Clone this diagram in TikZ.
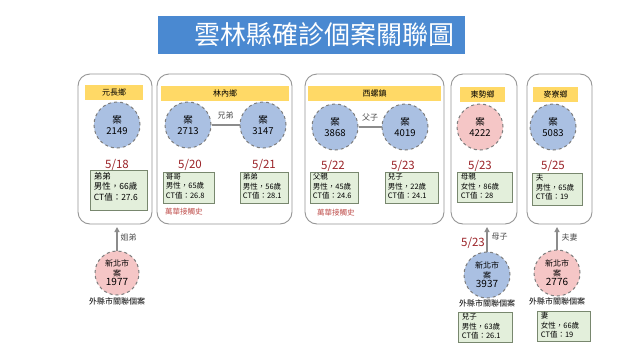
\documentclass[tikz,border=0pt]{standalone}
\usepackage{fontspec}
\setmainfont{Noto Sans CJK TC}
\usetikzlibrary{arrows.meta}
\definecolor{titleblue}{RGB}{74,137,209}
\definecolor{panelgray}{RGB}{150,150,150}
\definecolor{hdryellow}{RGB}{255,217,102}
\definecolor{cblue}{RGB}{170,192,226}
\definecolor{cpink}{RGB}{245,198,198}
\definecolor{cborder}{RGB}{125,125,125}
\definecolor{datered}{RGB}{155,35,40}
\definecolor{infofill}{RGB}{227,239,219}
\definecolor{infodraw}{RGB}{120,135,110}
\definecolor{noteRed}{RGB}{192,80,77}
\definecolor{linkgray}{RGB}{140,140,140}
\begin{document}
\begin{tikzpicture}[x=1pt,y=-1pt,
  panel/.style={draw=panelgray,line width=0.9pt,rounded corners=12pt,fill=white,inner sep=0pt},
  hdr/.style={fill=hdryellow,inner sep=0pt,minimum height=15pt,font=\fontsize{8}{9}\selectfont},
  casecircle/.style={circle,draw=cborder,dashed,line width=1pt,minimum size=46pt,inner sep=0pt,align=center,font=\fontsize{9.5}{11}\selectfont},
  bluecase/.style={casecircle,fill=cblue},
  pinkcase/.style={casecircle,fill=cpink},
  datelbl/.style={text=datered,font=\fontsize{11.5}{12}\selectfont,inner sep=0pt},
  infobox/.style={draw=infodraw,fill=infofill,line width=0.6pt,inner sep=0pt},
  infotext/.style={anchor=north west,align=left,inner sep=0pt,font=\fontsize{8.5}{10.5}\selectfont},
  link/.style={draw=linkgray,line width=1.6pt},
  uparrow/.style={draw=linkgray,line width=1.4pt,-{Triangle[length=5pt,width=5pt]}},
  rel/.style={text=black!70,font=\fontsize{8}{9}\selectfont,inner sep=1pt},
  note/.style={text=noteRed,font=\fontsize{7.5}{9}\selectfont,anchor=west,inner sep=0pt},
  outer/.style={font=\fontsize{8}{9}\selectfont,inner sep=0pt}]
\useasboundingbox[fill=white] (0,0) rectangle (644,362);
% title
\node[fill=titleblue,minimum width=307pt,minimum height=38pt,inner sep=0pt] (title) at (311.5,35) {};
\node[text=white,font=\fontsize{26}{28}\selectfont,inner sep=0pt] (titletext) at (324,35) {雲林縣確診個案關聯圖};
% panels
\node[panel,minimum width=74pt,minimum height=150pt] (p1) at (115,149) {};
\node[panel,minimum width=135pt,minimum height=150pt] (p2) at (224.5,149) {};
\node[panel,minimum width=139pt,minimum height=150pt] (p3) at (374.5,149) {};
\node[panel,minimum width=66pt,minimum height=150pt] (p4) at (484,149) {};
\node[panel,minimum width=65pt,minimum height=150pt] (p5) at (559.5,149) {};
% headers
\node[hdr,minimum width=58pt] (h1) at (114,92.5) {元長鄉};
\node[hdr,minimum width=128pt] (h2) at (225,93) {林內鄉};
\node[hdr,minimum width=133pt] (h3) at (374.5,93) {西螺鎮};
\node[hdr,minimum width=45pt] (h4) at (482.5,94) {東勢鄉};
\node[hdr,minimum width=45pt] (h5) at (555.5,94) {麥寮鄉};
% circles
\node[bluecase] (c2149) at (117,125) {案\\2149};
\node[bluecase] (c2713) at (188,125) {案\\2713};
\node[bluecase] (c3147) at (263,125) {案\\3147};
\node[bluecase] (c3868) at (335,127) {案\\3868};
\node[bluecase] (c4019) at (405,127) {案\\4019};
\node[pinkcase] (c4222) at (480,127) {案\\4222};
\node[bluecase] (c5083) at (553,127) {案\\5083};
% links
\draw[link] (c2713) -- node[rel,above=4pt] (r1) {兄弟} (c3147);
\draw[link] (c3868) -- node[rel,above=4pt] (r2) {父子} (c4019);
% dates
\node[datelbl] (d1) at (117,165) {5/18};
\node[datelbl] (d2) at (190,165) {5/20};
\node[datelbl] (d3) at (264,165) {5/21};
\node[datelbl] (d4) at (333,166) {5/22};
\node[datelbl] (d5) at (403,166) {5/23};
\node[datelbl] (d6) at (480,166) {5/23};
\node[datelbl] (d7) at (553,166) {5/25};
% info boxes
\node[infobox,minimum width=57pt,minimum height=40pt] (b1) at (118.5,190) {};
\node[infotext] (t1) at ([xshift=4pt,yshift=-2pt]b1.north west) {弟弟\\男性，66歲\\CT值：27.6};
\node[infobox,minimum width=51pt,minimum height=31pt] (b2) at (188.5,187.5) {};
\node[infotext,font=\fontsize{7.5}{9.5}\selectfont] (t2) at ([xshift=3pt,yshift=-1.5pt]b2.north west) {哥哥\\男性，65歲\\CT值：26.8};
\node[infobox,minimum width=48pt,minimum height=31pt] (b3) at (264,187.5) {};
\node[infotext,font=\fontsize{7.5}{9.5}\selectfont] (t3) at ([xshift=3pt,yshift=-1.5pt]b3.north west) {弟弟\\男性，56歲\\CT值：28.1};
\node[infobox,minimum width=48pt,minimum height=31pt] (b4) at (334,187.5) {};
\node[infotext,font=\fontsize{7.5}{9.5}\selectfont] (t4) at ([xshift=3pt,yshift=-1.5pt]b4.north west) {父親\\男性，45歲\\CT值：24.6};
\node[infobox,minimum width=53pt,minimum height=31pt] (b5) at (411.5,187.5) {};
\node[infotext,font=\fontsize{7.5}{9.5}\selectfont] (t5) at ([xshift=3pt,yshift=-1.5pt]b5.north west) {兒子\\男性，22歲\\CT值：24.1};
\node[infobox,minimum width=55pt,minimum height=30pt] (b6) at (484.5,187) {};
\node[infotext,font=\fontsize{7.5}{9.5}\selectfont] (t6) at ([xshift=4pt,yshift=-1.5pt]b6.north west) {母親\\女性，86歲\\CT值：28};
\node[infobox,minimum width=50pt,minimum height=32pt] (b7) at (557,189) {};
\node[infotext,font=\fontsize{7.5}{9.5}\selectfont] (t7) at ([xshift=4pt,yshift=-1.5pt]b7.north west) {夫\\男性，65歲\\CT值：19};
% notes
\node[note] (n1) at (165,212) {萬華接觸史};
\node[note] (n2) at (317,213) {萬華接觸史};
% bottom cases
\node[pinkcase,minimum size=44pt,font=\fontsize{8}{9.5}\selectfont] (c1977) at (117,273) {新北市\\案\\{\fontsize{10}{10}\selectfont 1977}};
\node[bluecase,minimum size=46pt,font=\fontsize{8}{9.5}\selectfont] (c3937) at (487,275) {新北市\\案\\{\fontsize{10}{10}\selectfont 3937}};
\node[pinkcase,minimum size=46pt,font=\fontsize{8}{9.5}\selectfont] (c2776) at (557,273) {新北市\\案\\{\fontsize{10}{10}\selectfont 2776}};
\coordinate (a1) at (117,227);
\coordinate (a4) at (487,227);
\coordinate (a5) at (557,227);
\draw[uparrow] (c1977) -- node[rel,right=2pt,pos=0.55] (r3) {姐弟} (a1);
\draw[uparrow] (c3937) -- node[rel,right=3pt,pos=0.6] (r4) {母子} (a4);
\draw[uparrow] (c2776) -- node[rel,right=3pt,pos=0.55] (r5) {夫妻} (a5);
\node[datelbl] (d8) at (473,243) {5/23};
\node[outer] (o1) at (117,301) {外縣市關聯個案};
\node[outer] (o2) at (487,303) {外縣市關聯個案};
\node[outer] (o3) at (557,301) {外縣市關聯個案};
\node[infobox,minimum width=54pt,minimum height=30pt] (b8) at (485,327) {};
\node[infotext,font=\fontsize{7.5}{9.5}\selectfont] (t8) at ([xshift=4pt,yshift=-1.5pt]b8.north west) {兒子\\男性，63歲\\CT值：26.1};
\node[infobox,minimum width=53pt,minimum height=30pt] (b9) at (563.5,326) {};
\node[infotext,font=\fontsize{7.5}{9.5}\selectfont] (t9) at ([xshift=4pt,yshift=-1.5pt]b9.north west) {妻\\女性，66歲\\CT值：19};
\end{tikzpicture}
\end{document}
